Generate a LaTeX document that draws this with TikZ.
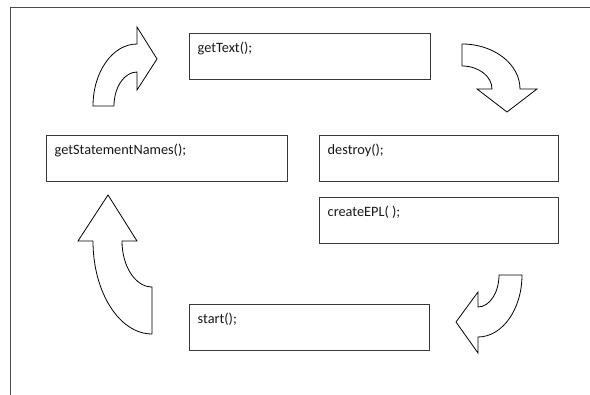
\documentclass[tikz,border=0pt]{standalone}
\usepackage{fontspec}
\setmainfont{Carlito}
\usetikzlibrary{calc}
\begin{document}
\begin{tikzpicture}[x=1pt,y=-1pt,
  box/.style={draw=black!78,line width=1.1pt,anchor=north west,inner sep=0pt,
              minimum height=46pt},
  lbl/.style={anchor=base west,inner sep=0pt,text=black!90,
              font=\fontsize{14.3}{17}\selectfont},
  blockarrow/.style={draw=black,line width=0.8pt,line join=miter,fill=white}]
\useasboundingbox (0,0) rectangle (590,395);
\fill[white] (0,0) rectangle (590,395);

% page frame (top and left edges)
\draw[black!70,line width=1pt] (10,395) -- (10,7.5) -- (590,7.5);

% method boxes
\node[box,minimum width=241pt] (gettext) at (189,33) {};
\node[box,minimum width=241pt] (names)   at (46,135) {};
\node[box,minimum width=239pt] (destroy) at (319,135) {};
\node[box,minimum width=239pt] (create)  at (319,197) {};
\node[box,minimum width=240pt] (start)   at (189,304) {};

\node[lbl] (t1) at ($(gettext.north west)+(8.5,20)$) {getText();};
\node[lbl] (t2) at ($(names.north west)+(8.5,20)$) {getStatementNames();};
\node[lbl] (t3) at ($(destroy.north west)+(8.5,20)$) {destroy();};
\node[lbl] (t4) at ($(create.north west)+(8.5,20)$) {createEPL( );};
\node[lbl] (t5) at ($(start.north west)+(8.5,20)$) {start();};

% curved block arrows
% up and to the right
\draw[blockarrow] (93,106) arc[start angle=180,end angle=270,x radius=44,y radius=62]
  -- (137,27) -- (157,59) -- (137,90) -- (137,72)
  arc[start angle=270,end angle=180,x radius=23,y radius=34] -- cycle;
% right and down
\draw[blockarrow] (462,44) arc[start angle=270,end angle=360,x radius=58,y radius=45]
  -- (537,89) -- (507,112) -- (477,89) -- (492,89)
  arc[start angle=0,end angle=-90,x radius=30,y radius=23] -- cycle;
% down and to the left
\draw[blockarrow] (499,275) -- (522,275)
  arc[start angle=0,end angle=90,x radius=44,y radius=62]
  -- (478,353) -- (456,322) -- (478,292) -- (478,307)
  arc[start angle=90,end angle=0,x radius=21,y radius=32] -- cycle;
% left side, pointing up
\draw[blockarrow] (108,195) -- (137,241) -- (122,241)
  arc[start angle=180,end angle=90,x radius=30,y radius=46]
  -- (152,334)
  arc[start angle=90,end angle=180,x radius=59,y radius=93]
  -- (78,241) -- cycle;
\end{tikzpicture}
\end{document}
